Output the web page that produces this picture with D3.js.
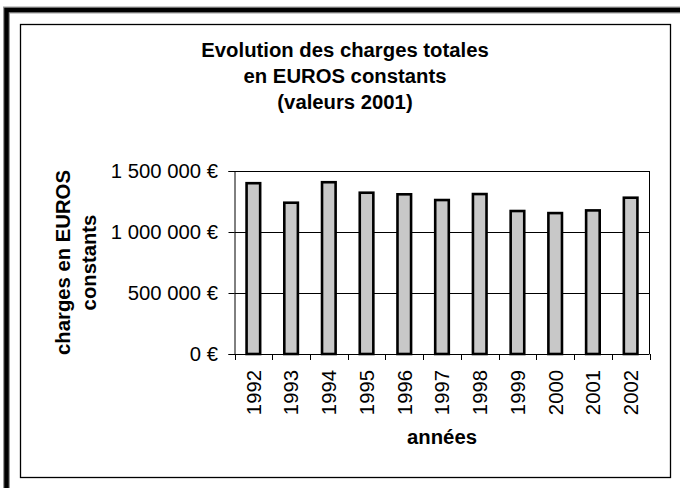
<!DOCTYPE html>
<html>
<head>
<meta charset="utf-8">
<script src="https://cdn.jsdelivr.net/npm/d3@7"></script>
<style>
body { margin: 0; background: #fff; }
svg { display: block; }
text { font-family: Arial, "Liberation Sans", sans-serif; fill: #000; font-size: 20.3px; }
</style>
</head>
<body>
<div id="chart"></div>
<script>
//Chart data
var years = ["1992","1993","1994","1995","1996","1997","1998","1999","2000","2001","2002"];
var charges = [1400000,1240000,1408000,1322000,1309000,1262000,1311000,1172000,1155000,1177000,1281000];
var yTicks = [0,500000,1000000,1500000];
var titleLines = ["Evolution des charges totales","en EUROS constants","(valeurs 2001)"];
var yTitleLines = ["charges en EUROS","constants"];
var xTitle = "années";

//System dimensions
var width = 680, height = 488;
var plot = {left: 234.5, right: 649.5, top: 171, bottom: 354};

var svg = d3.select("#chart")
    .append("svg")
    .attr("width",width)
    .attr("height",height);

//Outer frame (thick black on top and left)
svg.append("path")
    .attr("d","M6.5,488 V10 H680")
    .attr("fill","none")
    .attr("stroke","#999")
    .attr("stroke-width",7);
svg.append("path")
    .attr("d","M6.5,488 V10 H680")
    .attr("fill","none")
    .attr("stroke","#000")
    .attr("stroke-width",4.5);

//Chart area
svg.append("rect")
    .attr("x",20.5)
    .attr("y",24.5)
    .attr("width",650)
    .attr("height",453)
    .attr("fill","#fff")
    .attr("stroke","#000")
    .attr("stroke-width",1.3);

//Scales
var x = d3.scaleBand()
    .domain(years)
    .range([plot.left,plot.right])
    .paddingInner(0.64)
    .paddingOuter(0.32);

var y = d3.scaleLinear()
    .domain([0,1500000])
    .range([plot.bottom,plot.top]);

var fmt = function(d) {
    return d3.format(",")(d).replace(/,/g," ") + " €";
};

//Gridlines
svg.selectAll(".grid")
    .data(yTicks.filter(d => d > 0))
    .enter()
    .append("line")
    .attr("x1",plot.left)
    .attr("x2",plot.right)
    .attr("y1",d => Math.round(y(d)) + 0.5)
    .attr("y2",d => Math.round(y(d)) + 0.5)
    .attr("stroke","#000")
    .attr("stroke-width",1);

//Right border of the plot
svg.append("line")
    .attr("x1",plot.right)
    .attr("x2",plot.right)
    .attr("y1",plot.top)
    .attr("y2",plot.bottom)
    .attr("stroke","#000");

//Y axis
var yAxis = svg.append("g")
    .attr("transform","translate(" + plot.left + ",0)")
    .call(d3.axisLeft(y).tickValues(yTicks).tickSize(6).tickFormat(""));
yAxis.selectAll("line,path").attr("stroke","#000");
yAxis.selectAll(".tick").attr("transform",d => "translate(0," + (Math.round(y(d)) + 0.5) + ")");

//Y labels
svg.selectAll(".ylab")
    .data(yTicks)
    .enter()
    .append("text")
    .attr("x",218)
    .attr("y",d => y(d) + 7.2)
    .attr("text-anchor","end")
    .text(fmt);

//Bars
svg.selectAll(".bar")
    .data(charges)
    .enter()
    .append("rect")
    .attr("x",(d,i) => x(years[i]))
    .attr("y",d => y(d))
    .attr("width",x.bandwidth())
    .attr("height",d => plot.bottom - y(d))
    .attr("fill","#c8c8c8")
    .attr("stroke","#000")
    .attr("stroke-width",2.6);

//X axis, ticks between categories
var step = x.step();
var xTicks = years.map(d => x(d) - step * x.paddingInner() / 2);
xTicks.push(plot.right);
svg.append("line")
    .attr("x1",plot.left)
    .attr("x2",plot.right)
    .attr("y1",plot.bottom + 0.5)
    .attr("y2",plot.bottom + 0.5)
    .attr("stroke","#000");
svg.selectAll(".xtick")
    .data(xTicks)
    .enter()
    .append("line")
    .attr("x1",d => Math.round(d) + 0.5)
    .attr("x2",d => Math.round(d) + 0.5)
    .attr("y1",plot.bottom)
    .attr("y2",plot.bottom + 6)
    .attr("stroke","#000");

//X labels
svg.selectAll(".xlab")
    .data(years)
    .enter()
    .append("text")
    .attr("transform",d => "translate(" + (x(d) + x.bandwidth() / 2 + 7.4) + ",370) rotate(-90)")
    .attr("text-anchor","end")
    .text(d => d);

//Titles
svg.selectAll(".title")
    .data(titleLines)
    .enter()
    .append("text")
    .attr("x",345)
    .attr("y",(d,i) => 57 + i * 26)
    .attr("text-anchor","middle")
    .style("font-weight","bold")
    .text(d => d);

svg.append("text")
    .attr("x",(plot.left + plot.right) / 2)
    .attr("y",443.5)
    .attr("text-anchor","middle")
    .style("font-weight","bold")
    .text(xTitle);

svg.selectAll(".ytitle")
    .data(yTitleLines)
    .enter()
    .append("text")
    .attr("transform",(d,i) => "translate(" + (70 + i * 25.5) + "," + ((plot.top + plot.bottom) / 2) + ") rotate(-90)")
    .attr("text-anchor","middle")
    .style("font-weight","bold")
    .text(d => d);
</script>
</body>
</html>
